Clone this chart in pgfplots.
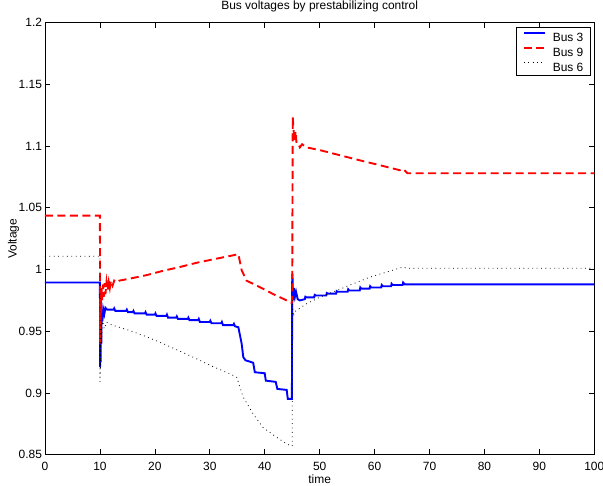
\documentclass[border=0pt]{standalone}
\usepackage{pgfplots}
\pgfplotsset{compat=1.18}
\usepackage{fontspec}
\setmainfont{Liberation Sans}
\newcommand{\fs}{\fontsize{12}{14}\selectfont}
\begin{document}
\begin{tikzpicture}
\begin{axis}[
  scale only axis,
  width=549.3bp, height=432bp,
  xmin=0, xmax=100, ymin=0.85, ymax=1.2,
  xtick={0,10,...,100},
  ytick={0.85,0.9,0.95,1,1.05,1.1,1.15,1.2},
  yticklabels={0.85,0.9,0.95,1,1.05,1.1,1.15,1.2},
  /pgf/number format/assume math mode=true,
  tick label style={font=\fs},
  xticklabel style={yshift=-3.5bp},
  yticklabel style={xshift=0.5bp},
  tick align=inside,
  major tick length=5.5bp,
  axis line style={line width=0.9bp},
  every tick/.style={black, line width=0.7bp},
  title={Bus voltages by prestabilizing control},
  title style={font=\fs, at={(axis description cs:0.5,1)}, anchor=base, yshift=7.7bp},
  xlabel={time},
  xlabel style={font=\fs, at={(axis description cs:0.5,0)}, anchor=base, yshift=-28.6bp},
  ylabel={Voltage},
  every axis y label/.style={font=\fs, at={(axis description cs:0,0.5)}, xshift=-28.3bp, rotate=90, anchor=base},
  legend style={font=\fs, at={(axis description cs:1,1)}, anchor=north east, xshift=-4bp, yshift=-4.6bp,
    draw=black, line width=0.8bp, inner xsep=6.5bp, inner ysep=4.5bp, row sep=5.4bp, column sep=6.5bp,
    nodes={inner sep=0pt, text height=8.6bp, text depth=0bp}},
  legend cell align=left,
  legend image code/.code={\draw[#1] (0bp,4.3bp) -- (21.6bp,4.3bp);},
]
\addplot[blue, line width=1.9bp] coordinates {
(0,0.9895) (10,0.9895) (10.02,0.921) (10.08,0.955) (10.12,0.925) (10.18,0.962) (10.25,0.94)
(10.32,0.966) (10.45,0.958) (10.6,0.968) (10.8,0.964) (11.0,0.969) (11.3,0.9675)
(12.5,0.9675) (12.6,0.9685) (12.8,0.9665)
(14.8,0.9665) (14.9,0.9675) (15.1,0.9655)
(16.0,0.9655) (16.1,0.9665) (16.3,0.9645)
(18.2,0.9645) (18.3,0.9655) (18.5,0.9635)
(20.0,0.9635) (20.1,0.9645) (20.3,0.9625)
(22.1,0.9625) (22.2,0.9635) (22.4,0.961)
(23.9,0.961) (24.0,0.962) (24.2,0.960)
(26.0,0.960) (26.1,0.961) (26.3,0.959)
(27.9,0.959) (28.0,0.960) (28.2,0.9575)
(30.0,0.9575) (30.1,0.9585) (30.3,0.9565)
(32.1,0.9565) (32.2,0.9575) (32.4,0.955)
(34.3,0.955) (34.4,0.956) (34.6,0.954)
(35.2,0.9533) (35.8,0.940) (36.1,0.929) (36.5,0.9265) (37.9,0.9245)
(38.2,0.9168) (40.0,0.916) (40.2,0.910) (42.0,0.909) (42.3,0.9033) (44.0,0.9025)
(44.2,0.8952) (44.95,0.8952) (45.0,0.99) (45.05,0.9966) (45.15,0.975) (45.3,0.985)
(45.5,0.978) (45.7,0.982) (46.0,0.976) (46.4,0.975) (47.3,0.976)
(47.4,0.978) (47.6,0.9775)
(49.0,0.9775) (49.1,0.9795) (49.3,0.979)
(51.2,0.979) (51.3,0.981) (51.5,0.9805)
(53.0,0.9805) (53.1,0.9825) (53.3,0.982)
(55.1,0.982) (55.2,0.984) (55.4,0.983)
(57.3,0.983) (57.4,0.9855) (57.6,0.9845)
(59.1,0.9845) (59.2,0.9865) (59.4,0.9855)
(61.2,0.9855) (61.3,0.9875) (61.5,0.9865)
(63.0,0.9865) (63.1,0.9885) (63.3,0.9875)
(65.1,0.9875) (65.2,0.9895) (65.5,0.988)
(100,0.988)
};
\addlegendentry{Bus 3}
\addplot[red, line width=1.9bp, dash pattern=on 8bp off 4.5bp] coordinates {
(0,1.0437) (10,1.0437) (10.02,0.94) (10.06,0.975) (10.1,0.955) (10.15,0.98) (10.2,0.965)
(10.3,0.985) (10.4,0.975) (10.55,0.988) (10.7,0.978) (10.85,0.989) (11.0,0.980) (11.2,0.990)
(11.4,0.983) (11.6,0.990) (11.8,0.985) (12.0,0.991) (12.3,0.987) (12.6,0.991) (13.0,0.9895)
(13.5,0.991) (15.4,0.9926) (18.5,0.9955) (21.5,0.999) (24.5,1.002) (27.6,1.0055)
(31.2,1.0088) (34.2,1.0115) (35.2,1.0125) (35.8,0.9995) (36.7,0.991) (39.1,0.9858)
(41.6,0.980) (44.0,0.975) (44.9,0.973) (45.0,0.975) (45.1,1.1237) (45.3,1.11) (45.45,1.104)
(45.6,1.112) (45.8,1.102) (46.1,1.102) (46.4,1.099) (46.8,1.1015) (47.6,1.099)
(50.1,1.0967) (53.7,1.0926) (57.3,1.0885) (61.0,1.0845) (64.6,1.0805) (65.2,1.0815)
(66.0,1.078) (100,1.078)
};
\addlegendentry{Bus 9}
\addplot[black, line width=0.8bp, dash pattern=on 0.8bp off 3.6bp] coordinates {
(0,1.0107) (10,1.0107) (10.02,0.909) (10.08,0.94) (10.12,0.92) (10.2,0.955) (10.3,0.945)
(10.5,0.958) (10.8,0.952) (11.2,0.9574) (12.0,0.9555) (13.0,0.954) (15.4,0.9506)
(18.5,0.9455) (21.5,0.940) (24.5,0.934) (27.6,0.9277) (30.5,0.9215) (33.7,0.9155)
(34.9,0.9127) (36.1,0.8965) (37.9,0.883) (39.7,0.872) (42.2,0.864) (44.0,0.8587)
(44.95,0.857) (45.0,0.857) (45.05,0.975) (45.2,0.962) (45.5,0.966) (45.8,0.9669)
(47.6,0.9723) (50.1,0.9777) (53.1,0.983) (56.1,0.9885) (59.2,0.9939) (62.2,0.998)
(65.2,1.002) (66.0,1.001) (100,1.001)
};
\addlegendentry{Bus 6}
\end{axis}
\pgfresetboundingbox
\path[use as bounding box] ([xshift=-45bp,yshift=-31.3bp]current axis.south west) rectangle ([xshift=8.7bp,yshift=22.7bp]current axis.north east);
\end{tikzpicture}
\end{document}
